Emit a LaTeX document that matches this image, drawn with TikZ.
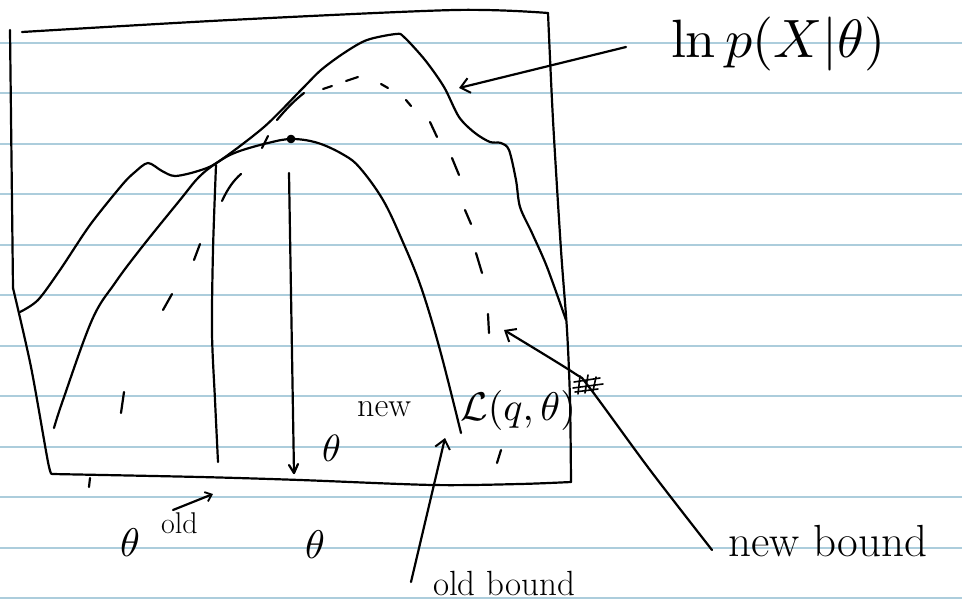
\documentclass[tikz,border=0pt]{standalone}
\usepackage{graphicx}
\usetikzlibrary{arrows.meta}
\definecolor{ruleblue}{RGB}{172,205,220}
\begin{document}
\begin{tikzpicture}[x=1pt,y=-1pt,
  ink/.style={line width=2.2pt,line cap=round,line join=round},
  tipped/.style={ink,-{Straight Barb[length=9pt,width=15pt,line width=2pt]}},
  smalltip/.style={ink,-{Straight Barb[length=6pt,width=10pt,line width=1.8pt]}},
  lbl/.style={inner sep=0pt,anchor=center}]
\useasboundingbox (0,0) rectangle (962,605);
\fill[white] (0,0) rectangle (962,605);
% ruled paper
\foreach \yy in {42.5,93,143.5,194,244.5,295,345.5,396,446.5,497,547.5,598}
  \draw[ruleblue,line width=2pt] (0,\yy) -- (962,\yy);
% frame
\draw[ink] (10,30) -- (13,288);
\draw[ink] plot[smooth] coordinates {(13,288) (31,367) (48,462) (52,474)};
\draw[ink] plot[smooth] coordinates {(52,474) (200,477) (300,480) (433,485) (520,484) (571,482)};
\draw[ink] plot[smooth] coordinates {(548,13) (553,120) (561,250) (567,330) (570,400) (571,482)};
\draw[ink] plot[smooth] coordinates {(22,32) (230,20) (455,10) (548,13)};
\draw[ink] (90,478) -- (89,487);
% ln p(X|theta)
\draw[ink] plot[smooth,tension=0.5] coordinates {(20,312) (38,300) (60,270) (90,225) (122,185) (135,172) (148,163) (162,171) (175,176) (198,171) (218,162) (264,127) (302,89) (321,70) (344,53) (367,40) (396,34) (404,37) (425,60) (444,87) (459,117) (475,133) (490,142) (501,143) (509,150) (516,180) (520,207) (532,233) (547,267) (566,320)};
% old bound
\draw[ink] plot[smooth,tension=0.6] coordinates {(54,428) (63,400) (92,320) (115,283) (142,247) (180,200) (199,177) (218,162) (237,152) (268,143) (292,139) (318,143) (344,155) (360,168) (383,200) (402,240) (421,287) (440,350) (461,433)};
\draw[ink,fill=black] (291,139) circle (3.2);
% new bound (dashed, drawn stroke by stroke)
\foreach \ax/\ay/\bx/\by in {124/392/121/413, 172/294/163/310, 200/244/194/260, 262/148/268/136, 323/89/332/86, 346/81/358/77, 381/84/388/88, 406/100/411/106, 430/122/437/137, 452/158/459/175, 465/210/471/224, 476/253/482/273, 488/314/489/333, 501/450/497/463}
  \draw[ink] (\ax,\ay) -- (\bx,\by);
\draw[ink] (222,201) .. controls (228,188) and (234,180) .. (241,174);
\draw[ink] (277,120) .. controls (286,109) and (295,100) .. (304,93);
% theta lines
\draw[ink] plot[smooth] coordinates {(216,165) (213,250) (212,333) (215,400) (218,462)};
\draw[ink] (289,173) -- (294,473);
\draw[ink] (289,465) -- (294,473) -- (298,464);
% labels
\node[lbl] (lnp) at (778,44) {\scalebox{5.4}{$\ln p(X|\theta)$}};
\coordinate (lnpStart) at (626,47);
\coordinate (lnpTip) at (459,88);
\draw[tipped] (lnpStart) -- (lnpTip);
\node[lbl] (Lq) at (518,410) {\scalebox{4}{$\mathcal{L}(q,\theta)$}};
\node[lbl,anchor=base west] (thnew) at (322,461) {\scalebox{3.8}{$\theta$}};
\node[lbl,anchor=base west] (newsup) at (357,416) {\fontsize{34}{34}\selectfont new};
\node[lbl,anchor=base west] (thold) at (120,556) {\scalebox{4}{$\theta$}};
\node[lbl,anchor=base west] (oldsup) at (161,533) {\fontsize{30}{30}\selectfont old};
\coordinate (oldA) at (173,510);
\coordinate (oldB) at (213,494);
\draw[smalltip] (oldA) -- (oldB);
\node[lbl,anchor=base west] (thaxis) at (305,558) {\scalebox{4}{$\theta$}};
\node[lbl,anchor=base] (oldbound) at (504,595) {\fontsize{35}{35}\selectfont old bound};
\coordinate (obStart) at (411,582);
\coordinate (obTip) at (445,438);
\draw[tipped] (obStart) -- (obTip);
\node[lbl,anchor=base] (newbound) at (828,556) {\fontsize{45}{45}\selectfont new bound};
\coordinate (nbStart) at (712,550);
\coordinate (nbTip) at (504,330);
\draw[tipped] plot[smooth] coordinates {(712,550) (650,470) (589,387) (574,373) (504,330)};
% scribble
\draw[line width=1.6pt,line cap=round] (574,382) -- (600,378) (573,388) -- (603,384) (575,392) -- (598,389) (580,376) -- (578,394) (588,375) -- (585,393) (596,377) -- (593,391);
\end{tikzpicture}
\end{document}
